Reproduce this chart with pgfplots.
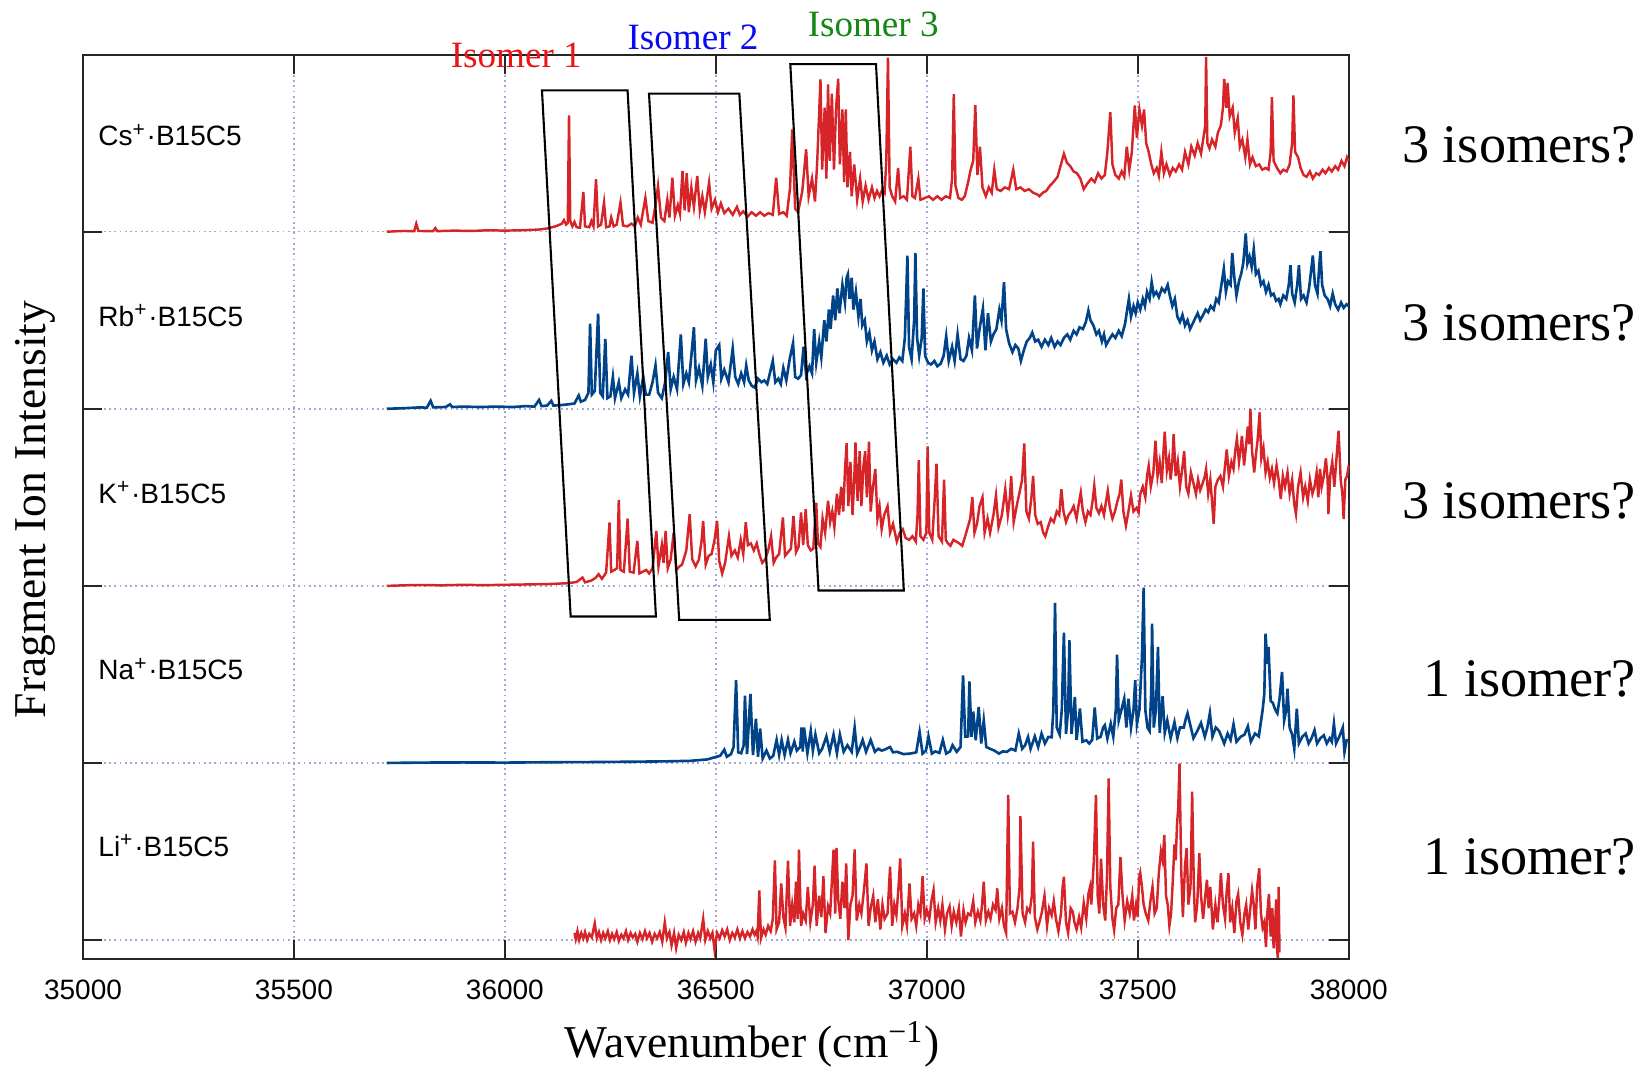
\documentclass[border=0pt]{standalone}
\usepackage{fontspec}
\setmainfont{Liberation Serif}
\newfontfamily\labelsans{Liberation Sans}
\usepackage{pgfplots}
\usepackage{pgfplotstable}
\pgfplotsset{compat=1.18}

\definecolor{specred}{RGB}{214,36,40}
\definecolor{specblue}{RGB}{0,67,137}
\definecolor{gridlav}{RGB}{165,165,215}
\definecolor{isored}{RGB}{235,20,20}
\definecolor{isoblue}{RGB}{10,10,240}
\definecolor{isogreen}{RGB}{20,135,20}

% Spectra: wavenumber (cm^-1) and normalised fragment signal (baseline = 0)
\pgfplotstableread{
wn sig
35720 0.000
35760 0.004
35785 0.003
35790 0.045
35795 0.004
35830 0.003
35835 0.020
35840 0.003
35880 0.006
35920 0.004
35960 0.008
36000 0.006
36040 0.008
36080 0.012
36100 0.018
36120 0.030
36135 0.045
36140 0.065
36145 0.040
36149 0.050
36152 0.657
36155 0.060
36160 0.030
36165 0.055
36170 0.025
36178 0.022
36186 0.224
36190 0.030
36200 0.025
36205 0.060
36210 0.030
36216 0.296
36221 0.030
36228 0.040
36235 0.164
36240 0.025
36248 0.030
36252 0.080
36258 0.030
36265 0.040
36274 0.164
36280 0.035
36290 0.030
36300 0.045
36308 0.030
36315 0.080
36322 0.040
36333 0.190
36340 0.060
36350 0.050
36357 0.150
36363 0.258
36370 0.080
36378 0.060
36385 0.180
36390 0.080
36397 0.305
36403 0.090
36410 0.150
36415 0.100
36421 0.343
36426 0.120
36431 0.330
36436 0.110
36442 0.250
36448 0.140
36456 0.314
36462 0.120
36468 0.200
36474 0.110
36484 0.277
36490 0.130
36498 0.180
36505 0.110
36512 0.160
36520 0.105
36530 0.130
36540 0.095
36550 0.140
36557 0.095
36565 0.115
36575 0.085
36585 0.110
36595 0.090
36605 0.110
36615 0.090
36625 0.105
36635 0.095
36643 0.305
36650 0.100
36660 0.110
36668 0.090
36676 0.250
36681 0.578
36688 0.130
36695 0.110
36705 0.230
36714 0.465
36720 0.200
36728 0.300
36735 0.170
36740 0.380
36748 0.860
36752 0.350
36758 0.700
36762 0.300
36766 0.832
36770 0.400
36775 0.780
36780 0.350
36785 0.700
36790 0.864
36794 0.380
36800 0.690
36804 0.280
36808 0.690
36812 0.250
36818 0.450
36822 0.200
36828 0.380
36835 0.180
36842 0.300
36848 0.170
36855 0.260
36862 0.180
36870 0.250
36876 0.190
36882 0.230
36888 0.200
36895 0.240
36900 0.220
36904 0.400
36908 0.983
36912 0.250
36918 0.200
36925 0.170
36932 0.360
36937 0.190
36945 0.200
36953 0.180
36961 0.480
36966 0.200
36972 0.190
36980 0.300
36985 0.180
36995 0.190
37005 0.200
37015 0.180
37025 0.200
37035 0.180
37045 0.200
37055 0.190
37060 0.300
37064 0.776
37068 0.260
37075 0.190
37083 0.180
37090 0.200
37098 0.280
37104 0.350
37110 0.400
37115 0.714
37120 0.320
37126 0.480
37132 0.250
37140 0.200
37147 0.250
37154 0.220
37160 0.350
37166 0.240
37175 0.230
37185 0.250
37195 0.240
37205 0.350
37212 0.240
37222 0.250
37232 0.230
37242 0.240
37252 0.220
37262 0.210
37267 0.200
37275 0.220
37283 0.230
37292 0.260
37300 0.280
37310 0.310
37318 0.380
37325 0.440
37332 0.390
37340 0.370
37348 0.340
37356 0.330
37364 0.300
37372 0.240
37380 0.270
37390 0.300
37398 0.280
37406 0.330
37414 0.300
37422 0.320
37428 0.450
37435 0.675
37440 0.380
37447 0.320
37455 0.300
37462 0.340
37468 0.310
37474 0.480
37480 0.350
37486 0.450
37493 0.713
37498 0.530
37504 0.690
37510 0.600
37515 0.690
37520 0.500
37526 0.450
37532 0.380
37538 0.330
37545 0.360
37550 0.315
37556 0.450
37562 0.330
37568 0.380
37576 0.320
37583 0.360
37590 0.340
37598 0.380
37605 0.350
37612 0.450
37620 0.380
37627 0.480
37635 0.430
37642 0.500
37650 0.440
37655 0.520
37660 0.600
37662 0.987
37665 0.500
37670 0.470
37676 0.520
37684 0.480
37690 0.560
37697 0.600
37702 0.700
37705 0.863
37710 0.700
37713 0.840
37718 0.650
37725 0.700
37730 0.560
37737 0.640
37742 0.480
37748 0.520
37755 0.420
37760 0.520
37766 0.380
37772 0.420
37780 0.370
37788 0.380
37795 0.350
37803 0.360
37810 0.350
37815 0.450
37818 0.760
37822 0.400
37830 0.360
37838 0.330
37845 0.350
37853 0.340
37860 0.380
37866 0.500
37869 0.770
37873 0.450
37880 0.420
37886 0.360
37893 0.320
37900 0.310
37908 0.340
37915 0.300
37923 0.330
37930 0.320
37938 0.350
37945 0.330
37953 0.360
37960 0.340
37968 0.370
37975 0.350
37983 0.400
37990 0.370
37996 0.420
38000 0.400
}\csdata

\pgfplotstableread{
wn sig
35720 0.000
35760 0.003
35800 0.008
35815 0.006
35824 0.045
35830 0.008
35860 0.010
35870 0.025
35875 0.010
35900 0.012
35940 0.010
35980 0.012
36020 0.010
36050 0.015
36070 0.012
36081 0.050
36087 0.015
36100 0.018
36110 0.045
36115 0.018
36130 0.020
36150 0.025
36165 0.030
36175 0.075
36180 0.040
36190 0.050
36198 0.090
36202 0.480
36206 0.080
36213 0.100
36221 0.537
36226 0.090
36232 0.070
36238 0.395
36243 0.060
36250 0.070
36256 0.180
36261 0.060
36270 0.150
36276 0.060
36285 0.110
36292 0.080
36300 0.300
36306 0.090
36314 0.200
36320 0.070
36328 0.180
36334 0.080
36342 0.080
36350 0.150
36357 0.245
36363 0.090
36372 0.060
36380 0.150
36387 0.320
36393 0.110
36400 0.180
36408 0.110
36417 0.420
36423 0.140
36430 0.200
36436 0.150
36442 0.300
36448 0.460
36453 0.160
36460 0.230
36468 0.130
36476 0.395
36481 0.180
36488 0.250
36494 0.150
36500 0.330
36508 0.360
36513 0.170
36520 0.220
36530 0.150
36540 0.340
36546 0.180
36553 0.140
36560 0.200
36567 0.150
36572 0.245
36578 0.160
36585 0.130
36592 0.120
36600 0.170
36608 0.150
36615 0.160
36622 0.140
36628 0.200
36635 0.270
36641 0.150
36648 0.170
36654 0.140
36660 0.230
36667 0.160
36675 0.280
36683 0.370
36688 0.180
36695 0.170
36702 0.190
36708 0.350
36714 0.190
36722 0.240
36728 0.200
36733 0.450
36738 0.260
36745 0.380
36750 0.290
36757 0.500
36762 0.380
36768 0.560
36772 0.450
36778 0.640
36783 0.500
36788 0.680
36793 0.540
36800 0.700
36806 0.600
36810 0.740
36813 0.760
36817 0.620
36822 0.740
36826 0.560
36832 0.660
36838 0.520
36843 0.620
36847 0.470
36853 0.500
36858 0.380
36864 0.430
36870 0.330
36876 0.380
36883 0.280
36890 0.320
36897 0.260
36905 0.300
36912 0.250
36920 0.280
36928 0.260
36935 0.290
36942 0.270
36948 0.400
36952 0.700
36954 0.865
36958 0.350
36964 0.280
36970 0.500
36973 0.880
36977 0.400
36982 0.300
36988 0.400
36992 0.680
36996 0.300
37003 0.260
37010 0.250
37018 0.270
37025 0.240
37033 0.255
37040 0.300
37046 0.410
37052 0.270
37060 0.350
37066 0.270
37073 0.420
37080 0.280
37087 0.270
37094 0.300
37100 0.400
37107 0.330
37114 0.640
37119 0.340
37125 0.450
37133 0.565
37139 0.330
37145 0.540
37152 0.380
37158 0.420
37165 0.450
37172 0.560
37177 0.500
37183 0.715
37188 0.450
37195 0.370
37203 0.320
37210 0.360
37217 0.340
37223 0.270
37230 0.330
37237 0.380
37244 0.400
37250 0.430
37257 0.380
37264 0.390
37272 0.350
37280 0.390
37288 0.360
37295 0.400
37303 0.350
37310 0.380
37317 0.360
37325 0.400
37333 0.420
37340 0.390
37348 0.440
37355 0.420
37362 0.460
37370 0.450
37377 0.490
37383 0.555
37388 0.500
37395 0.470
37402 0.420
37408 0.440
37415 0.380
37420 0.420
37425 0.360
37432 0.390
37440 0.420
37447 0.400
37455 0.440
37462 0.410
37470 0.480
37475 0.560
37479 0.620
37484 0.520
37490 0.580
37495 0.540
37500 0.600
37506 0.560
37512 0.620
37517 0.580
37522 0.660
37528 0.620
37533 0.715
37538 0.640
37544 0.660
37550 0.630
37557 0.680
37564 0.660
37571 0.700
37576 0.640
37582 0.580
37588 0.620
37594 0.520
37600 0.490
37606 0.530
37612 0.470
37618 0.500
37624 0.450
37630 0.480
37636 0.510
37642 0.540
37648 0.500
37655 0.530
37661 0.560
37667 0.545
37673 0.580
37680 0.560
37686 0.620
37692 0.600
37697 0.680
37704 0.790
37709 0.660
37714 0.720
37720 0.700
37724 0.880
37729 0.740
37734 0.640
37740 0.720
37745 0.760
37750 0.820
37753 0.900
37756 0.990
37760 0.820
37765 0.860
37770 0.800
37775 0.900
37780 0.760
37786 0.780
37792 0.700
37798 0.720
37804 0.660
37810 0.700
37816 0.640
37822 0.650
37828 0.610
37834 0.620
37838 0.590
37845 0.640
37852 0.620
37858 0.700
37862 0.810
37866 0.650
37872 0.600
37878 0.700
37882 0.810
37887 0.620
37893 0.640
37900 0.600
37906 0.680
37910 0.760
37915 0.865
37920 0.700
37926 0.650
37930 0.800
37933 0.890
37937 0.700
37943 0.640
37950 0.620
37956 0.580
37962 0.650
37968 0.590
37975 0.560
37982 0.600
37988 0.570
37995 0.590
38000 0.580
}\rbdata

\pgfplotstableread{
wn sig
35720 0.000
35760 0.003
35800 0.005
35850 0.003
35900 0.006
35950 0.004
36000 0.006
36050 0.008
36100 0.010
36150 0.015
36170 0.022
36184 0.047
36190 0.020
36205 0.030
36215 0.045
36222 0.066
36230 0.040
36240 0.075
36248 0.358
36252 0.080
36260 0.090
36266 0.100
36270 0.486
36274 0.090
36282 0.080
36291 0.380
36296 0.080
36305 0.075
36314 0.254
36319 0.070
36327 0.080
36335 0.090
36342 0.070
36350 0.100
36359 0.310
36364 0.110
36372 0.230
36376 0.130
36381 0.310
36386 0.100
36393 0.150
36400 0.300
36406 0.090
36414 0.110
36420 0.120
36430 0.200
36438 0.405
36444 0.150
36452 0.110
36460 0.150
36466 0.250
36470 0.367
36476 0.120
36483 0.170
36490 0.180
36497 0.260
36503 0.367
36508 0.140
36515 0.070
36522 0.130
36531 0.280
36537 0.170
36545 0.200
36552 0.160
36559 0.260
36565 0.180
36571 0.360
36576 0.230
36583 0.240
36590 0.200
36597 0.240
36603 0.180
36610 0.130
36617 0.150
36624 0.200
36631 0.280
36637 0.130
36643 0.160
36650 0.180
36659 0.386
36664 0.170
36671 0.190
36678 0.210
36684 0.395
36690 0.190
36696 0.220
36702 0.414
36707 0.230
36713 0.433
36718 0.230
36725 0.200
36731 0.210
36738 0.470
36742 0.240
36748 0.220
36753 0.380
36759 0.300
36766 0.480
36771 0.360
36776 0.420
36781 0.330
36787 0.520
36792 0.400
36797 0.560
36802 0.420
36806 0.650
36810 0.806
36814 0.450
36819 0.700
36824 0.400
36828 0.600
36831 0.810
36836 0.480
36841 0.760
36845 0.450
36850 0.680
36854 0.760
36858 0.500
36863 0.814
36867 0.420
36872 0.550
36878 0.660
36883 0.380
36888 0.450
36893 0.320
36899 0.400
36907 0.450
36913 0.300
36920 0.350
36929 0.250
36936 0.300
36943 0.320
36950 0.270
36958 0.260
36966 0.280
36974 0.250
36978 0.400
36981 0.710
36985 0.280
36992 0.260
36999 0.300
37002 0.787
37006 0.300
37013 0.260
37019 0.500
37023 0.690
37028 0.280
37036 0.250
37041 0.600
37045 0.260
37050 0.240
37056 0.226
37063 0.260
37070 0.250
37077 0.240
37084 0.226
37091 0.280
37097 0.330
37103 0.380
37108 0.500
37113 0.300
37119 0.350
37125 0.450
37132 0.500
37137 0.300
37144 0.380
37150 0.300
37158 0.400
37164 0.510
37170 0.330
37178 0.400
37186 0.546
37192 0.400
37197 0.500
37200 0.620
37206 0.360
37213 0.450
37220 0.530
37226 0.600
37231 0.804
37236 0.420
37242 0.380
37248 0.500
37252 0.620
37257 0.400
37263 0.350
37270 0.360
37276 0.300
37281 0.280
37287 0.330
37294 0.380
37301 0.360
37308 0.420
37314 0.400
37319 0.546
37324 0.420
37330 0.360
37336 0.400
37342 0.420
37348 0.450
37355 0.380
37360 0.460
37365 0.527
37370 0.420
37376 0.360
37382 0.420
37388 0.400
37393 0.480
37397 0.565
37402 0.440
37408 0.410
37414 0.450
37420 0.400
37425 0.480
37429 0.537
37434 0.440
37440 0.380
37446 0.420
37452 0.480
37457 0.520
37461 0.600
37466 0.420
37472 0.340
37478 0.420
37484 0.510
37490 0.420
37497 0.440
37502 0.414
37506 0.520
37512 0.560
37518 0.500
37522 0.620
37526 0.678
37531 0.560
37537 0.640
37542 0.820
37547 0.620
37552 0.700
37557 0.580
37561 0.760
37564 0.870
37569 0.650
37574 0.720
37578 0.600
37582 0.700
37585 0.857
37590 0.620
37595 0.700
37600 0.560
37605 0.650
37610 0.760
37615 0.560
37620 0.520
37626 0.640
37632 0.580
37638 0.518
37643 0.600
37648 0.540
37654 0.580
37659 0.620
37662 0.660
37667 0.520
37672 0.600
37676 0.480
37680 0.350
37684 0.560
37690 0.600
37696 0.620
37702 0.560
37707 0.680
37711 0.770
37716 0.620
37722 0.700
37727 0.660
37731 0.760
37735 0.830
37740 0.700
37744 0.780
37747 0.847
37752 0.680
37757 0.800
37761 0.900
37764 0.800
37767 0.998
37771 0.760
37776 0.640
37780 0.740
37784 0.820
37789 0.980
37793 0.720
37798 0.780
37803 0.640
37808 0.700
37813 0.610
37818 0.660
37823 0.580
37829 0.680
37834 0.600
37839 0.490
37844 0.620
37849 0.560
37855 0.640
37860 0.520
37866 0.600
37871 0.460
37875 0.405
37880 0.560
37886 0.640
37892 0.500
37897 0.560
37903 0.480
37908 0.600
37914 0.520
37919 0.560
37924 0.640
37928 0.500
37932 0.660
37936 0.560
37941 0.620
37946 0.720
37950 0.600
37952 0.405
37956 0.620
37961 0.700
37966 0.560
37971 0.720
37976 0.876
37981 0.600
37985 0.520
37988 0.377
37992 0.600
37996 0.620
38000 0.680
}\kdata

\pgfplotstableread{
wn sig
35720 0.000
35800 0.002
35900 0.003
36000 0.002
36100 0.004
36200 0.005
36300 0.007
36380 0.009
36440 0.012
36480 0.020
36500 0.034
36510 0.040
36520 0.075
36526 0.035
36536 0.050
36542 0.090
36548 0.467
36553 0.060
36560 0.055
36566 0.100
36569 0.380
36574 0.050
36582 0.390
36588 0.045
36595 0.250
36600 0.035
36605 0.194
36611 0.025
36620 0.070
36628 0.025
36636 0.040
36644 0.130
36650 0.045
36656 0.130
36663 0.045
36671 0.130
36677 0.055
36686 0.120
36692 0.070
36700 0.090
36703 0.200
36706 0.065
36709 0.200
36717 0.055
36725 0.180
36730 0.070
36736 0.160
36745 0.055
36752 0.080
36762 0.150
36770 0.063
36779 0.160
36787 0.055
36794 0.160
36803 0.063
36812 0.100
36822 0.063
36829 0.200
36835 0.053
36842 0.090
36848 0.130
36856 0.063
36867 0.130
36877 0.063
36885 0.080
36893 0.070
36900 0.075
36913 0.090
36920 0.060
36929 0.063
36945 0.050
36961 0.053
36975 0.060
36983 0.175
36990 0.053
36998 0.070
37004 0.150
37012 0.053
37020 0.065
37030 0.057
37038 0.130
37046 0.053
37055 0.065
37061 0.100
37071 0.063
37080 0.090
37086 0.495
37091 0.148
37098 0.150
37101 0.460
37106 0.148
37110 0.290
37116 0.128
37123 0.316
37129 0.110
37135 0.240
37141 0.090
37150 0.080
37160 0.070
37171 0.053
37180 0.065
37190 0.063
37200 0.080
37210 0.070
37218 0.166
37226 0.080
37233 0.100
37240 0.147
37246 0.080
37256 0.150
37264 0.090
37272 0.166
37280 0.110
37288 0.147
37296 0.145
37300 0.300
37304 0.904
37308 0.200
37315 0.160
37320 0.300
37325 0.736
37330 0.165
37335 0.300
37338 0.693
37343 0.165
37351 0.373
37355 0.130
37363 0.307
37369 0.120
37378 0.128
37385 0.110
37392 0.130
37398 0.313
37404 0.138
37412 0.148
37418 0.200
37422 0.213
37428 0.138
37436 0.222
37442 0.148
37448 0.300
37451 0.612
37455 0.240
37462 0.306
37468 0.363
37473 0.200
37478 0.363
37484 0.200
37490 0.300
37494 0.467
37498 0.220
37504 0.300
37510 0.600
37514 0.990
37518 0.300
37523 0.200
37528 0.180
37532 0.400
37534 0.787
37538 0.200
37543 0.300
37548 0.655
37552 0.170
37559 0.377
37564 0.170
37570 0.240
37578 0.140
37587 0.230
37594 0.140
37600 0.200
37609 0.200
37614 0.250
37618 0.280
37624 0.220
37632 0.140
37641 0.180
37650 0.226
37659 0.148
37665 0.200
37671 0.282
37677 0.148
37685 0.200
37693 0.180
37705 0.110
37713 0.166
37720 0.130
37727 0.218
37734 0.120
37744 0.148
37753 0.160
37761 0.207
37768 0.120
37778 0.166
37787 0.150
37796 0.300
37800 0.390
37803 0.730
37807 0.560
37810 0.655
37815 0.350
37820 0.340
37826 0.300
37831 0.280
37836 0.360
37842 0.514
37847 0.240
37852 0.300
37855 0.420
37860 0.200
37866 0.160
37871 0.080
37877 0.307
37882 0.110
37890 0.148
37898 0.166
37905 0.110
37912 0.140
37919 0.185
37925 0.110
37933 0.140
37941 0.156
37948 0.110
37955 0.140
37960 0.120
37965 0.222
37970 0.110
37978 0.150
37986 0.200
37990 0.063
37995 0.128
38000 0.130
}\nadata

\pgfplotstableread{
wn sig
36165 0.040
36168 0.005
36172 0.050
36176 0.000
36181 0.040
36186 0.010
36190 0.045
36195 0.000
36200 0.035
36206 0.015
36213 0.094
36218 0.010
36223 0.045
36228 0.000
36233 0.040
36238 0.010
36244 0.050
36249 0.000
36254 0.035
36259 0.005
36265 0.045
36270 -0.005
36276 0.030
36281 0.010
36287 0.050
36292 0.000
36298 0.040
36303 0.015
36309 0.035
36314 -0.010
36320 0.040
36326 0.005
36332 0.050
36337 0.010
36343 0.040
36349 -0.010
36355 0.035
36361 0.010
36367 0.045
36373 -0.010
36379 0.100
36384 0.010
36390 0.045
36395 -0.030
36401 0.040
36406 -0.045
36412 0.030
36418 0.000
36424 0.045
36429 -0.015
36435 0.040
36440 0.005
36446 0.050
36452 -0.010
36458 0.040
36463 0.010
36470 0.120
36475 0.000
36481 0.050
36487 0.010
36492 0.040
36497 -0.056
36503 0.040
36509 0.010
36515 0.055
36521 0.020
36527 0.060
36533 0.000
36539 0.040
36545 0.015
36551 0.060
36557 0.010
36563 0.050
36569 0.010
36575 0.045
36581 0.020
36587 0.060
36592 0.030
36596 0.050
36599 0.020
36603 0.280
36607 0.010
36613 0.060
36618 0.030
36624 0.080
36630 0.050
36635 0.120
36640 0.450
36644 0.060
36650 0.100
36655 0.320
36660 0.130
36665 0.070
36671 0.448
36676 0.080
36681 0.200
36686 0.100
36690 0.330
36694 0.120
36697 0.510
36702 0.080
36707 0.150
36713 0.110
36718 0.300
36724 0.100
36730 0.200
36734 0.420
36739 0.080
36745 0.250
36750 0.130
36755 0.360
36760 0.040
36766 0.190
36771 0.150
36775 0.330
36779 0.510
36783 0.150
36786 0.520
36790 0.230
36795 0.120
36800 0.330
36805 0.180
36809 0.433
36814 0.000
36819 0.200
36824 0.250
36829 0.512
36834 0.110
36840 0.200
36845 0.150
36851 0.280
36857 0.433
36862 0.080
36867 0.180
36873 0.250
36878 0.100
36884 0.230
36890 0.060
36895 0.200
36900 0.120
36907 0.150
36913 0.414
36918 0.080
36923 0.200
36928 0.140
36933 0.300
36937 0.461
36942 0.080
36948 0.150
36953 0.080
36959 0.320
36964 0.120
36970 0.150
36975 0.080
36980 0.200
36985 0.150
36990 0.360
36995 0.120
37000 0.170
37006 0.120
37011 0.220
37016 0.282
37021 0.100
37027 0.180
37032 0.110
37037 0.200
37043 0.060
37048 0.150
37054 0.190
37059 0.080
37064 0.160
37070 0.100
37076 0.180
37081 0.020
37087 0.170
37092 0.100
37098 0.150
37104 0.140
37110 0.220
37115 0.100
37121 0.160
37127 0.110
37131 0.200
37135 0.330
37140 0.110
37146 0.160
37151 0.120
37157 0.200
37163 0.170
37167 0.292
37172 0.120
37178 0.180
37183 0.080
37188 0.040
37193 0.820
37197 0.150
37203 0.160
37209 0.100
37215 0.180
37220 0.300
37222 0.700
37227 0.150
37233 0.100
37238 0.180
37244 0.160
37249 0.250
37252 0.556
37256 0.130
37262 0.060
37268 0.110
37273 0.160
37279 0.250
37285 0.080
37290 0.180
37296 0.140
37301 0.220
37306 0.120
37312 0.050
37318 0.150
37322 0.300
37325 0.358
37330 0.100
37335 0.040
37341 0.180
37346 0.160
37350 0.100
37355 0.060
37361 0.130
37366 0.070
37372 0.210
37378 0.120
37383 0.260
37387 0.300
37390 0.200
37396 0.450
37401 0.820
37405 0.250
37409 0.150
37413 0.460
37418 0.200
37423 0.110
37427 0.350
37431 0.913
37435 0.300
37440 0.120
37444 0.056
37449 0.180
37454 0.200
37459 0.470
37464 0.250
37469 0.110
37475 0.220
37481 0.150
37487 0.250
37491 0.110
37496 0.200
37500 0.130
37503 0.350
37506 0.380
37510 0.300
37514 0.200
37519 0.150
37525 0.110
37530 0.220
37535 0.300
37540 0.150
37545 0.180
37550 0.380
37555 0.500
37559 0.450
37563 0.593
37567 0.250
37571 0.200
37575 0.080
37579 0.150
37583 0.330
37587 0.540
37590 0.450
37593 0.650
37596 0.750
37599 0.998
37603 0.400
37607 0.130
37612 0.420
37616 0.520
37620 0.200
37625 0.300
37629 0.838
37633 0.300
37636 0.100
37641 0.200
37646 0.490
37650 0.250
37655 0.120
37660 0.250
37664 0.340
37668 0.180
37672 0.300
37678 0.060
37684 0.200
37689 0.100
37694 0.250
37697 0.377
37702 0.200
37707 0.120
37711 0.280
37715 0.377
37719 0.100
37724 0.180
37729 0.040
37734 0.220
37738 0.260
37743 0.100
37748 0.030
37753 0.150
37757 0.200
37762 0.060
37766 0.160
37771 0.280
37775 0.200
37779 0.060
37783 0.300
37788 0.405
37792 0.150
37796 0.070
37800 0.100
37804 -0.040
37807 0.150
37811 0.260
37815 0.020
37819 0.180
37822 -0.047
37826 0.100
37828 0.230
37830 -0.050
37832 -0.100
37834 0.300
37836 -0.070
}\lidata

\begin{document}
\begin{tikzpicture}
\useasboundingbox (-23.7pt,-30.6pt) rectangle (446.7pt,273.9pt);
\begin{axis}[
  at={(0pt,0pt)}, anchor=south west,
  width=361.5pt, height=258.3pt, scale only axis,
  xmin=35000, xmax=38000, ymin=-0.107, ymax=5.0,
  xtick={35000,35500,36000,36500,37000,37500,38000},
  ytick={0,1,2,3,4,5},
  yticklabels={},
  scaled x ticks=false,
  xticklabel={\pgfmathprintnumber[fixed,precision=0,1000 sep={},assume math mode=true]{\tick}},
  xticklabel style={font=\labelsans\fontsize{8}{9}\selectfont, anchor=base, yshift=-11.7pt},
  tick align=inside, tick pos=both,
  major tick length=5.5pt,
  grid=major,
  major grid style={gridlav, dash pattern=on 0.5pt off 1pt, line width=0.45pt},
  axis line style={black!85, line width=0.6pt},
  every tick/.style={black!85, line width=0.6pt},
  xlabel={Wavenumber (cm\textsuperscript{−1})},
  ylabel={Fragment Ion Intensity},
  xlabel style={font=\fontsize{13}{15}\selectfont, at={(axis description cs:0.5286,-0.109)}, anchor=base},
  ylabel style={font=\fontsize{13}{15}\selectfont, at={(axis description cs:-0.0299,0.497)}, anchor=base},
  clip=false,
]
% stacked spectra, each shifted by one unit
\addplot[specred, line width=0.7pt] table[x=wn, y expr=\thisrow{sig}+4] {\csdata};
\addplot[specblue, line width=0.75pt] table[x=wn, y expr=\thisrow{sig}+3] {\rbdata};
\addplot[specred, line width=0.7pt] table[x=wn, y expr=\thisrow{sig}+2] {\kdata};
\addplot[specblue, line width=0.75pt] table[x=wn, y expr=\thisrow{sig}+1] {\nadata};
\addplot[specred, line width=0.7pt] table[x=wn, y expr=\thisrow{sig}] {\lidata};

% isomer windows
\draw[black, line width=0.6pt] (axis cs:36087.9,4.798) -- (axis cs:36290.8,4.798) -- (axis cs:36358.0,1.827) -- (axis cs:36155.9,1.827) -- cycle;
\draw[black, line width=0.6pt] (axis cs:36341.6,4.780) -- (axis cs:36555.7,4.780) -- (axis cs:36627.9,1.808) -- (axis cs:36413.1,1.808) -- cycle;
\draw[black, line width=0.6pt] (axis cs:36676.5,4.946) -- (axis cs:36879.6,4.946) -- (axis cs:36945.6,1.974) -- (axis cs:36743.4,1.974) -- cycle;

\node[anchor=base, text=isored, font=\fontsize{10.6}{12}\selectfont] at (axis cs:36027,4.925) {Isomer 1};
\node[anchor=base, text=isoblue, font=\fontsize{10.6}{12}\selectfont] at (axis cs:36446,5.029) {Isomer 2};
\node[anchor=base, text=isogreen, font=\fontsize{10.6}{12}\selectfont] at (axis cs:36873,5.104) {Isomer 3};

% complex labels
\node[anchor=base west, inner sep=0pt, font=\labelsans\fontsize{8}{9}\selectfont] at (axis cs:35035,4.484) {Cs\textsuperscript{+}·B15C5};
\node[anchor=base west, inner sep=0pt, font=\labelsans\fontsize{8}{9}\selectfont] at (axis cs:35035,3.463) {Rb\textsuperscript{+}·B15C5};
\node[anchor=base west, inner sep=0pt, font=\labelsans\fontsize{8}{9}\selectfont] at (axis cs:35035,2.466) {K\textsuperscript{+}·B15C5};
\node[anchor=base west, inner sep=0pt, font=\labelsans\fontsize{8}{9}\selectfont] at (axis cs:35035,1.469) {Na\textsuperscript{+}·B15C5};
\node[anchor=base west, inner sep=0pt, font=\labelsans\fontsize{8}{9}\selectfont] at (axis cs:35035,0.472) {Li\textsuperscript{+}·B15C5};

% isomer counts
\node[anchor=base east, inner sep=0pt, xshift=82.2pt, font=\fontsize{15.5}{18}\selectfont] at (axis cs:38000,4.392) {3 isomers?};
\node[anchor=base east, inner sep=0pt, xshift=82.2pt, font=\fontsize{15.5}{18}\selectfont] at (axis cs:38000,3.383) {3 isomers?};
\node[anchor=base east, inner sep=0pt, xshift=82.2pt, font=\fontsize{15.5}{18}\selectfont] at (axis cs:38000,2.380) {3 isomers?};
\node[anchor=base east, inner sep=0pt, xshift=82.2pt, font=\fontsize{15.5}{18}\selectfont] at (axis cs:38000,1.374) {1 isomer?};
\node[anchor=base east, inner sep=0pt, xshift=82.2pt, font=\fontsize{15.5}{18}\selectfont] at (axis cs:38000,0.368) {1 isomer?};
\end{axis}
\end{tikzpicture}
\end{document}
